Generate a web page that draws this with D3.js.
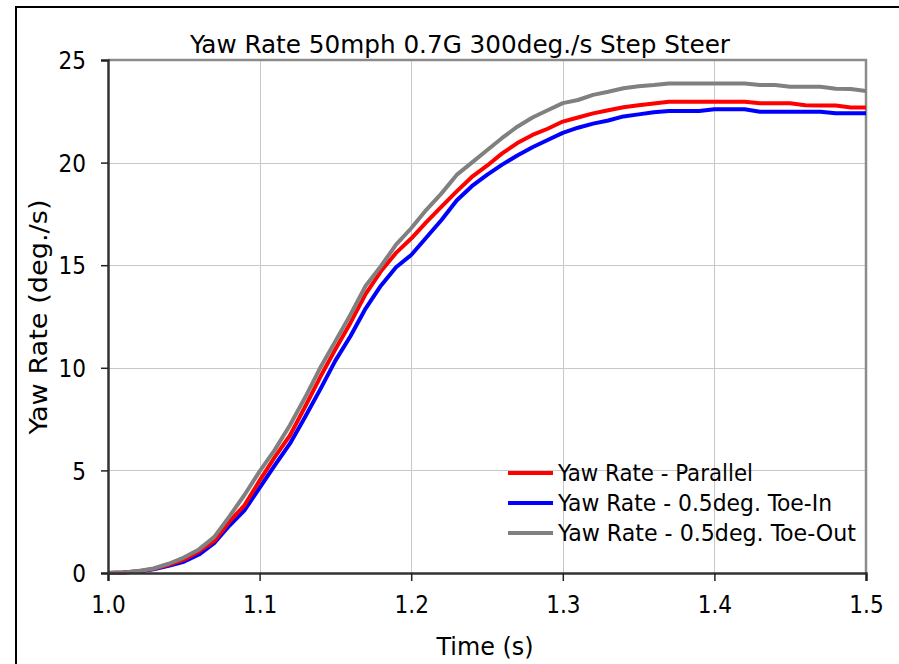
<!DOCTYPE html>
<html>
<head>
<meta charset="utf-8">
<script src="https://cdn.jsdelivr.net/npm/d3@7"></script>
<style>
  body { margin: 0; background: #fff; }
  svg text { font-family: "DejaVu Sans Condensed", "DejaVu Sans", sans-serif; fill: #000; }
</style>
</head>
<body>
<div id="chart"></div>
<script>
// time samples (s)
var times = [1.00,1.01,1.02,1.03,1.04,1.05,1.06,1.07,1.08,1.09,
             1.10,1.11,1.12,1.13,1.14,1.15,1.16,1.17,1.18,1.19,
             1.20,1.21,1.22,1.23,1.24,1.25,1.26,1.27,1.28,1.29,
             1.30,1.31,1.32,1.33,1.34,1.35,1.36,1.37,1.38,1.39,
             1.40,1.41,1.42,1.43,1.44,1.45,1.46,1.47,1.48,1.49,1.50];

var parallel = [0,0.02,0.08,0.2,0.4,0.65,1.05,1.55,2.5,3.3,
                4.5,5.65,6.7,8.1,9.55,10.9,12.2,13.6,14.7,15.6,
                16.3,17.1,17.85,18.6,19.3,19.85,20.45,20.95,21.35,21.65,
                22.0,22.2,22.4,22.55,22.7,22.8,22.88,22.97,22.97,22.97,
                22.97,22.97,22.97,22.89,22.89,22.89,22.8,22.78,22.78,22.68,22.68];

var toeIn = [0,0.02,0.07,0.18,0.35,0.55,0.9,1.45,2.3,3.05,
             4.15,5.25,6.3,7.6,8.95,10.35,11.55,12.9,14.0,14.9,
             15.5,16.35,17.2,18.15,18.85,19.4,19.9,20.35,20.75,21.1,
             21.45,21.7,21.9,22.05,22.25,22.35,22.45,22.51,22.51,22.51,
             22.6,22.6,22.6,22.48,22.48,22.48,22.48,22.48,22.4,22.4,22.4];

var toeOut = [0,0.03,0.1,0.22,0.45,0.75,1.15,1.75,2.75,3.8,
              4.95,6.0,7.2,8.55,10.0,11.3,12.6,14.0,14.95,16.0,
              16.8,17.7,18.5,19.4,20.0,20.6,21.2,21.75,22.2,22.55,
              22.9,23.05,23.3,23.45,23.62,23.72,23.78,23.86,23.86,23.86,
              23.86,23.86,23.86,23.78,23.78,23.7,23.7,23.7,23.6,23.59,23.49];

var seriesNames = ["Yaw Rate - Parallel", "Yaw Rate - 0.5deg. Toe-In", "Yaw Rate - 0.5deg. Toe-Out"];
var seriesColors = ["#ff0000", "#0000ff", "#808080"];
var xTicks = [1.0, 1.1, 1.2, 1.3, 1.4, 1.5];
var yTicks = [0, 5, 10, 15, 20, 25];

var W = 899, H = 664;
var margin = {left: 108, top: 60, right: 33, bottom: 91};
var iw = W - margin.left - margin.right;
var ih = H - margin.top - margin.bottom;

var svg = d3.select("#chart").append("svg")
    .attr("width", W)
    .attr("height", H);

// outer frame
svg.append("rect")
    .attr("x", 16).attr("y", 7)
    .attr("width", W + 20).attr("height", H + 20)
    .attr("fill", "none")
    .attr("stroke", "#000")
    .attr("stroke-width", 2);

var x = d3.scaleLinear().domain([1.0, 1.5]).range([0, iw]);
var y = d3.scaleLinear().domain([0, 25]).range([ih, 0]);

var g = svg.append("g").attr("transform", "translate(" + margin.left + "," + margin.top + ")");

// grid
g.append("g").selectAll("line").data(xTicks.slice(1, -1)).enter().append("line")
    .attr("x1", function(d) { return Math.round(x(d)) + 0.5; })
    .attr("x2", function(d) { return Math.round(x(d)) + 0.5; })
    .attr("y1", 0).attr("y2", ih)
    .attr("stroke", "#c8c8c8").attr("stroke-width", 1);
g.append("g").selectAll("line").data(yTicks.slice(1, -1)).enter().append("line")
    .attr("y1", function(d) { return Math.round(y(d)) + 0.5; })
    .attr("y2", function(d) { return Math.round(y(d)) + 0.5; })
    .attr("x1", 0).attr("x2", iw)
    .attr("stroke", "#c8c8c8").attr("stroke-width", 1);

// top and right border of plot area
g.append("path")
    .attr("d", "M0," + y(25) + "H" + iw + "V" + ih)
    .attr("fill", "none")
    .attr("stroke", "#8c8c8c")
    .attr("stroke-width", 2.5);

// series
var line = d3.line()
    .x(function(d) { return x(d[0]); })
    .y(function(d) { return y(d[1]); });

var allSeries = [parallel, toeIn, toeOut];
var drawOrder = [1, 0, 2];
drawOrder.forEach(function(i) {
    g.append("path")
        .datum(times.map(function(t, k) { return [t, allSeries[i][k]]; }))
        .attr("d", line)
        .attr("fill", "none")
        .attr("stroke", seriesColors[i])
        .attr("stroke-width", 4)
        .attr("stroke-linejoin", "round");
});

// axes
var xAxis = g.append("g")
    .attr("transform", "translate(0," + ih + ")")
    .call(d3.axisBottom(x).tickValues(xTicks).tickSize(8).tickPadding(15)
        .tickFormat(d3.format(".1f")));
var yAxis = g.append("g")
    .call(d3.axisLeft(y).tickValues(yTicks).tickSize(7).tickPadding(15));

[xAxis, yAxis].forEach(function(a) {
    a.select(".domain").attr("stroke", "#333").attr("stroke-width", 2.5);
    a.selectAll(".tick line").attr("stroke", "#222").attr("stroke-width", 1.5);
    a.selectAll(".tick text")
        .style("font-family", "'DejaVu Sans Condensed', 'DejaVu Sans', sans-serif")
        .style("font-size", "24px")
        .attr("fill", "#000");
});
xAxis.selectAll(".tick text").attr("dy", "0.71em");
yAxis.selectAll(".tick text").attr("dy", "0.36em");

// title and axis titles (stretched to the reference's text widths)
svg.append("text")
    .attr("x", 460).attr("y", 53)
    .attr("text-anchor", "middle")
    .attr("textLength", 540)
    .attr("lengthAdjust", "spacingAndGlyphs")
    .style("font-size", "24px")
    .text("Yaw Rate 50mph 0.7G 300deg./s Step Steer");

svg.append("text")
    .attr("x", 485).attr("y", 655)
    .attr("text-anchor", "middle")
    .attr("textLength", 97)
    .attr("lengthAdjust", "spacingAndGlyphs")
    .style("font-size", "24px")
    .text("Time (s)");

svg.append("text")
    .attr("transform", "translate(47,317) rotate(-90)")
    .attr("text-anchor", "middle")
    .attr("textLength", 235)
    .attr("lengthAdjust", "spacingAndGlyphs")
    .style("font-size", "24px")
    .text("Yaw Rate (deg./s)");

// legend
var legendWidths = [195, 274, 298];
var legend = svg.append("g").attr("transform", "translate(508,473)");
seriesNames.forEach(function(name, i) {
    var row = legend.append("g").attr("transform", "translate(0," + (i * 30) + ")");
    row.append("line")
        .attr("x1", 0).attr("x2", 45)
        .attr("y1", 0).attr("y2", 0)
        .attr("stroke", seriesColors[i])
        .attr("stroke-width", 4);
    row.append("text")
        .attr("x", 50).attr("y", 8)
        .attr("textLength", legendWidths[i])
        .attr("lengthAdjust", "spacingAndGlyphs")
        .style("font-size", "23px")
        .text(name);
});
</script>
</body>
</html>
